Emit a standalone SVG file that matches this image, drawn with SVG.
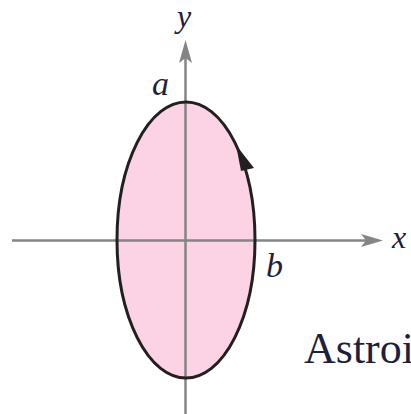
<svg xmlns="http://www.w3.org/2000/svg" width="411" height="414" viewBox="0 0 411 414">
  <style>
    .axis { stroke: #858585; stroke-width: 2.5; fill: none; }
    .head { fill: #858585; }
    .lbl { font-family: "Liberation Serif", "Times New Roman", serif; font-style: italic; fill: #1f1f3a; }
    .cap { font-family: "Liberation Serif", "Times New Roman", serif; fill: #1f1f3a; }
  </style>
  <rect width="411" height="414" fill="#ffffff"/>
  <g id="region">
    <ellipse cx="186" cy="240" rx="69" ry="138" fill="#fbd3e4" stroke="none"/>
  </g>
  <g id="axes">
    <line class="axis" x1="12" y1="240.5" x2="372" y2="240.5"/>
    <path class="head" d="M383,240.5 L361,234 L366,240.5 L361,247 Z"/>
    <line class="axis" x1="185.5" y1="58" x2="185.5" y2="414"/>
    <path class="head" d="M185.5,40 L179,63 L185.5,58 L192,63 Z"/>
  </g>
  <g id="curve">
    <ellipse cx="186" cy="240" rx="69" ry="138" fill="none" stroke="#231f20" stroke-width="3"/>
    <path d="M236,145 L254,168 L241,171 Z" fill="#231f20"/>
  </g>
  <g id="labels">
    <text class="lbl" x="177" y="27" font-size="32">y</text>
    <text class="lbl" x="152" y="95" font-size="34">a</text>
    <text class="lbl" x="266" y="277" font-size="34">b</text>
    <text class="lbl" x="392" y="248" font-size="32">x</text>
    <text class="cap" x="304" y="363" font-size="44">Astroi</text>
  </g>
</svg>
